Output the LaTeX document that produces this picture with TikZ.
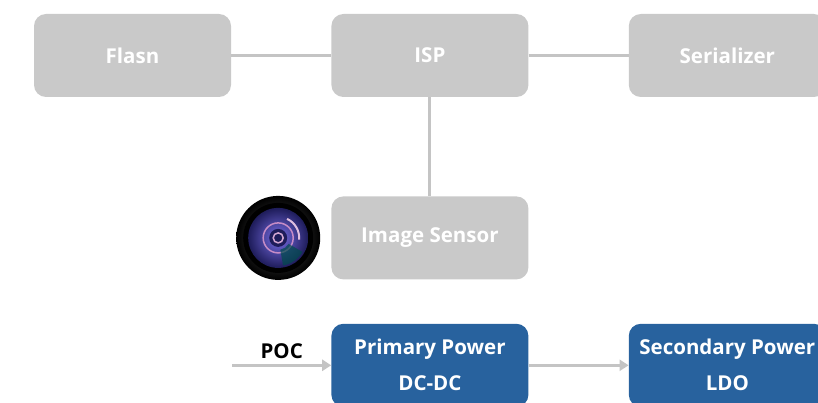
\documentclass[tikz,border=0pt]{standalone}
\usepackage{fontspec}
\setmainfont{Open Sans}
\usetikzlibrary{positioning,arrows.meta}

\definecolor{boxgray}{RGB}{201,201,201}
\definecolor{linegray}{RGB}{196,196,196}
\definecolor{powerblue}{RGB}{40,98,158}
\definecolor{lensviolet}{RGB}{120,110,230}
\definecolor{lensdark}{RGB}{30,28,90}

\begin{document}
\begin{tikzpicture}[x=1pt,y=1pt,node distance=100pt,>=Triangle]

  \tikzstyle{block}=[rounded corners=12pt,minimum width=197pt,minimum height=83pt,align=center,text=white]
  \tikzstyle{idle}=[block,fill=boxgray,font=\fontsize{20.5}{24}\selectfont\bfseries]
  \tikzstyle{power}=[block,fill=powerblue,font=\fontsize{20.5}{36}\selectfont\bfseries]
  \tikzstyle{wire}=[draw=linegray,line width=3pt]

  \useasboundingbox (0,0) rectangle (818,-403);

  % camera chain
  \node[idle] (flash) at (132.5,-55.5) {Flasn};
  \node[idle] (isp) [right=of flash] {ISP};
  \node[idle] (ser) [right=of isp] {Serializer};
  \node[idle] (sensor) [below=99pt of isp] {Image Sensor};

  \draw[wire] (flash) -- (isp);
  \draw[wire] (isp) -- (ser);
  \draw[wire] (isp) -- (sensor);

  % power chain
  \node[power] (primary) [below=44pt of sensor] {Primary Power\\DC-DC};
  \node[power] (secondary) [right=of primary] {Secondary Power\\LDO};
  \coordinate[left=99pt of primary.west] (pocin);

  \draw[wire,-{Triangle[length=9pt,width=11pt]}] (pocin) -- node[above=2pt,text=black,font=\fontsize{20.5}{24}\selectfont\bfseries] (poc) {POC} (primary);
  \draw[wire,-{Triangle[length=9pt,width=11pt]}] (primary) -- (secondary);

  % lens
  \coordinate[left=53pt of sensor.west] (lens);
  \shade[inner color=black!65,outer color=black] (lens) circle (42);
  \fill[black] (lens) circle (35);
  \shade[inner color=lensviolet,outer color=lensdark] (lens) circle (30);
  \draw[violet!45!white,line width=1.5pt] (lens) circle (15);
  \fill[lensdark] (lens) circle (9);
  \draw[violet!35!white,line width=1.5pt] (lens) circle (5);
  \fill[teal!60!black,opacity=0.7] (lens) ++(-30:12) arc (-30:-80:12) -- ++(-80:16) arc (-80:-30:28) -- cycle;
  \draw[violet!25!white,line width=2pt] (lens) ++(65:21) arc (65:-5:21);

\end{tikzpicture}
\end{document}
